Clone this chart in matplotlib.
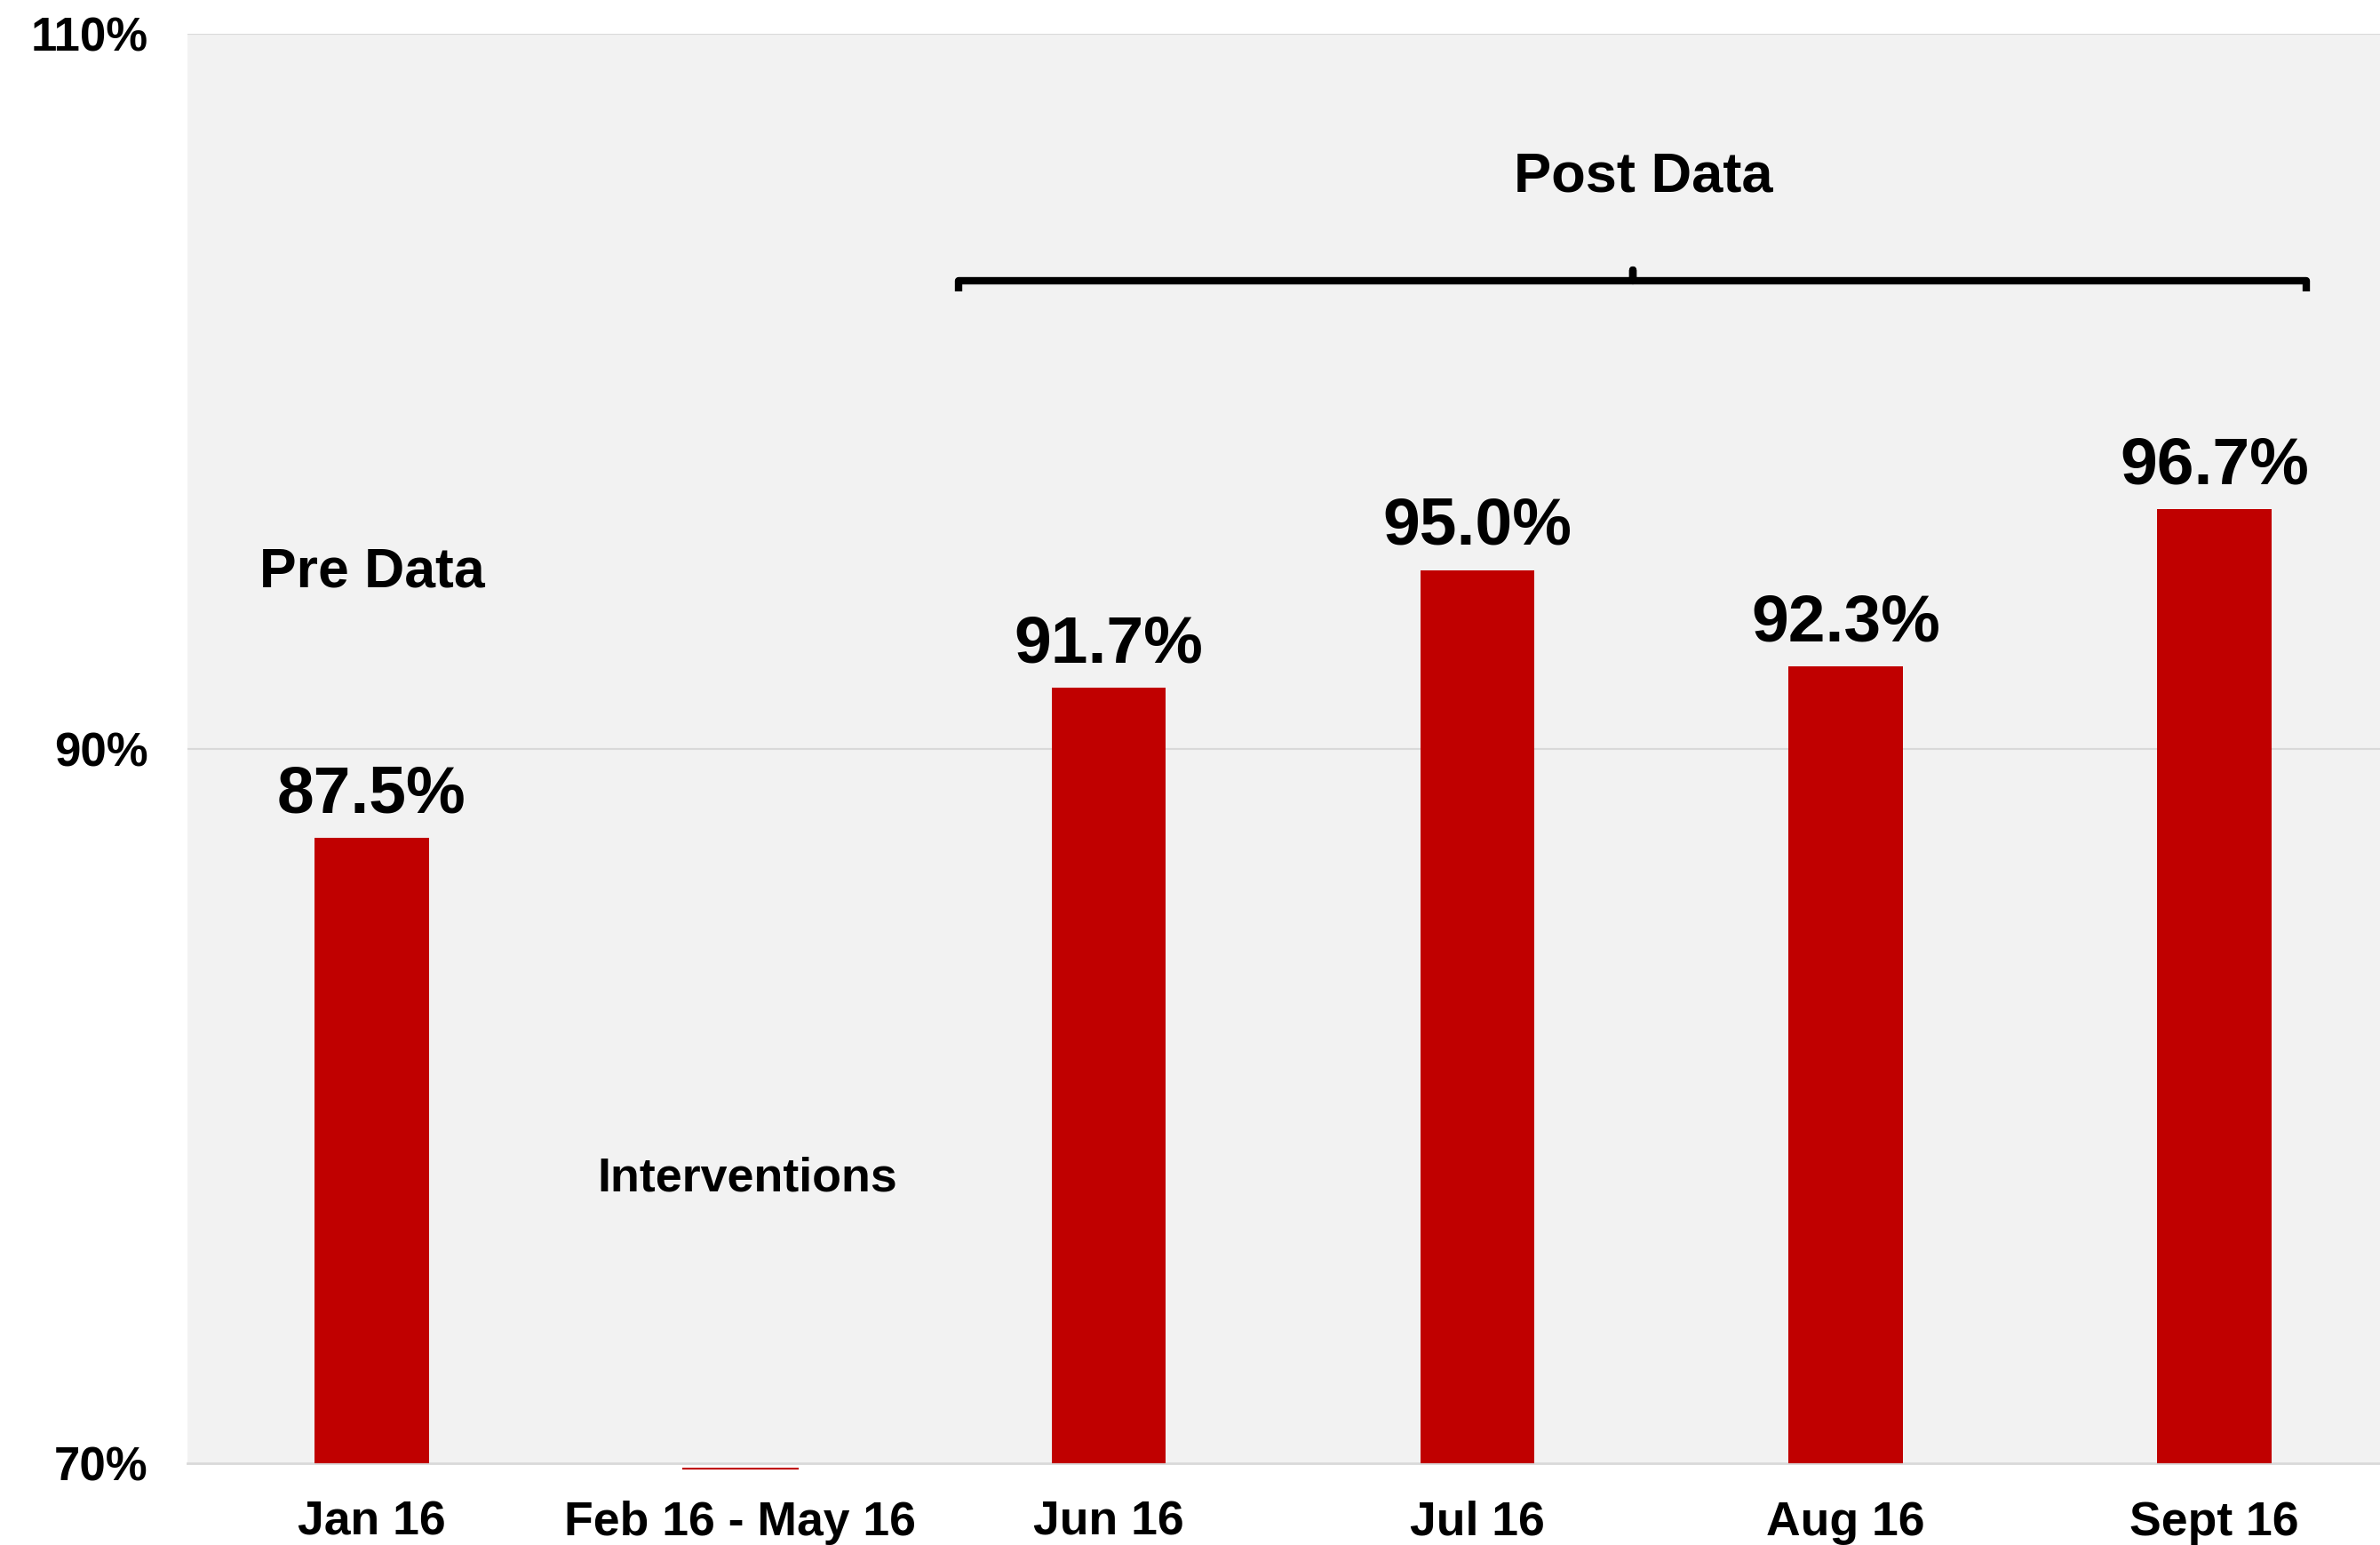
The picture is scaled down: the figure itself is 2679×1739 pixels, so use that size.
import matplotlib.pyplot as plt
import numpy as np

# Données du graphique
categories = ["Jan 16", "Feb 16 - May 16", "Jun 16", "Jul 16", "Aug 16", "Sept 16"]
values = [87.5, 70.0, 91.7, 95.0, 92.3, 96.7]
labels = ["87.5%", "", "91.7%", "95.0%", "92.3%", "96.7%"]
yticks = [70, 90, 110]
ytick_labels = ["70%", "90%", "110%"]

BAR_COLOR = "#C00000"
BG = "#F2F2F2"
GRID = "#D9D9D9"
FONT = ["Liberation Sans", "DejaVu Sans"]

plt.rcParams["font.family"] = FONT

fig = plt.figure(figsize=(26.79, 17.39), dpi=100)
ax = fig.add_axes([0.0788, 0.0529, 1 - 0.0788, 0.978 - 0.0529])
ax.set_facecolor(BG)

x = np.arange(len(categories))
base = 70
heights = [v - base for v in values]
bars = ax.bar(x, heights, bottom=base, width=0.31, color=BAR_COLOR, zorder=3)
# barre vide "Interventions" : trait fin sous l'axe
ax.plot([x[1] - 0.155, x[1] + 0.155], [69.85, 69.85], color=BAR_COLOR, lw=1.5,
        zorder=3, clip_on=False)

for xi, v, lab in zip(x, values, labels):
    if lab:
        ax.text(xi, v + 0.35, lab, ha="center", va="bottom", fontsize=54,
                fontweight="bold")

ax.set_xlim(-0.5, 5.45)
ax.set_ylim(70, 110)
ax.set_yticks(yticks)
ax.set_yticklabels(ytick_labels, fontsize=38, fontweight="bold")
ax.set_xticks(x)
ax.set_xticklabels(categories, fontsize=38.5, fontweight="bold")
ax.tick_params(axis="both", length=0)
ax.tick_params(axis="x", pad=30)
ax.tick_params(axis="y", pad=32)
for yv in [90, 110]:
    ax.axhline(yv, color=GRID, lw=1.5, zorder=1)
for s in ["top", "right", "left"]:
    ax.spines[s].set_visible(False)
ax.spines["bottom"].set_color(GRID)
ax.spines["bottom"].set_linewidth(2)

# Annotations
ax.text(0.0, 94.95, "Pre Data", ha="center", va="center", fontsize=45,
        fontweight="bold")
ax.text(1.02, 77.97, "Interventions", ha="center", va="center", fontsize=38.7,
        fontweight="bold")
ax.text(3.45, 106.0, "Post Data", ha="center", va="center", fontsize=45.5,
        fontweight="bold")

# Accolade au-dessus des données post
bx0, bx1, by = 1.593, 5.25, 103.1
bxm = (bx0 + bx1) / 2
ax.plot([bx0, bx0, bxm, bxm, bxm, bx1, bx1],
        [by - 0.3, by, by, by + 0.3, by, by, by - 0.3],
        color="black", lw=6, solid_joinstyle="round", solid_capstyle="butt",
        zorder=4)

fig.savefig("out.png", dpi=100, facecolor="white")
